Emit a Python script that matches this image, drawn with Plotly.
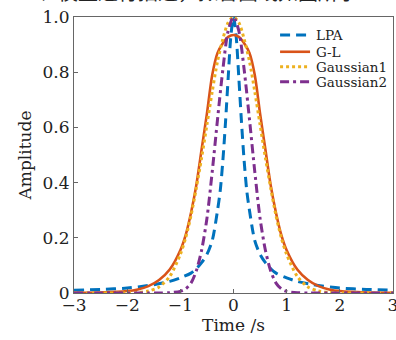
import plotly.graph_objects as go

# ---- data ----
t_lpa = [-3, -2.5, -2, -1.5, -1.2, -1, -0.8, -0.7, -0.6, -0.5, -0.4, -0.3, -0.25, -0.2, -0.15, -0.1, -0.05, 0,
         0.05, 0.1, 0.15, 0.2, 0.25, 0.3, 0.4, 0.5, 0.6, 0.7, 0.8, 1, 1.2, 1.5, 2, 2.5, 3]
lpa = [0.010, 0.013, 0.018, 0.030, 0.042, 0.055, 0.072, 0.088, 0.11, 0.14, 0.19, 0.30, 0.37, 0.48, 0.62, 0.78, 0.93, 1.0,
       0.93, 0.78, 0.62, 0.48, 0.37, 0.30, 0.19, 0.14, 0.11, 0.088, 0.072, 0.055, 0.042, 0.030, 0.018, 0.013, 0.010]

t_g = [-3, -2.5, -2, -1.8, -1.6, -1.4, -1.2, -1, -0.9, -0.8, -0.7, -0.6, -0.5, -0.4, -0.3, -0.2, -0.1, 0,
       0.1, 0.2, 0.3, 0.4, 0.5, 0.6, 0.7, 0.8, 0.9, 1, 1.2, 1.4, 1.6, 1.8, 2, 2.5, 3]
gl = [0.001, 0.002, 0.007, 0.013, 0.025, 0.047, 0.085, 0.155, 0.21, 0.29, 0.39, 0.52, 0.65, 0.79, 0.87, 0.905, 0.928, 0.935,
      0.928, 0.905, 0.87, 0.79, 0.65, 0.52, 0.39, 0.29, 0.21, 0.155, 0.085, 0.047, 0.025, 0.013, 0.007, 0.002, 0.001]
gauss1 = [0, 0, 0.0005, 0.002, 0.007, 0.022, 0.06, 0.14, 0.20, 0.28, 0.38, 0.49, 0.61, 0.73, 0.84, 0.92, 0.98, 1.0,
          0.98, 0.92, 0.84, 0.73, 0.61, 0.49, 0.38, 0.28, 0.20, 0.14, 0.06, 0.022, 0.007, 0.002, 0.0005, 0, 0]
gauss2 = [0, 0, 0, 0, 0, 0, 0.001, 0.006, 0.015, 0.036, 0.08, 0.155, 0.27, 0.44, 0.63, 0.81, 0.95, 1.0,
          0.95, 0.81, 0.63, 0.44, 0.27, 0.155, 0.08, 0.036, 0.015, 0.006, 0.001, 0, 0, 0, 0, 0, 0]

names = ["LPA", "G-L", "Gaussian1", "Gaussian2"]
x_ticks = [-3, -2, -1, 0, 1, 2, 3]
y_ticks = [0, 0.2, 0.4, 0.6, 0.8, 1.0]
y_ticktext = ["0", "0.2", "0.4", "0.6", "0.8", "1.0"]

# ---- styles ----
colors = ["#0072BD", "#D95319", "#EDB120", "#7E2F8E"]
dashes = ["10px,6px", "solid", "3px,3px", "9px,4px,3px,4px"]
widths = [3, 2.6, 3, 3]
FONT = "DejaVu Serif"

series = [(t_lpa, lpa), (t_g, gl), (t_g, gauss1), (t_g, gauss2)]

fig = go.Figure()
for (tx, vy), name, c, d, w in zip(series, names, colors, dashes, widths):
    fig.add_trace(go.Scatter(x=tx, y=vy, mode="lines", name=name,
                             line=dict(color=c, dash=d, width=w, shape="spline", smoothing=0.8),
                             showlegend=False))

# manual legend (compact spacing)
leg_y = [0.935, 0.874, 0.820, 0.765]
for name, c, d, w, yy in zip(names, colors, dashes, widths, leg_y):
    fig.add_shape(type="line", xref="paper", yref="paper", x0=0.646, x1=0.740, y0=yy, y1=yy,
                  line=dict(color=c, dash=d, width=w))
    fig.add_annotation(xref="paper", yref="paper", x=0.752, y=yy, text=name, showarrow=False,
                       xanchor="left", yanchor="middle", font=dict(family=FONT, size=13.5, color="#222"))

# cropped page text at the top
fig.add_annotation(xref="paper", yref="paper", x=-0.12, y=1.0, yshift=9, text="、模型进行描述，拟合曲线如图所示",
                   showarrow=False, xanchor="left", yanchor="bottom",
                   font=dict(family="Noto Sans CJK SC", size=20, color="#222"))

axis_common = dict(showline=True, mirror=True, linecolor="#666", linewidth=1,
                   ticks="inside", ticklen=4, tickcolor="#666", showgrid=False, zeroline=False,
                   ticklabeloverflow="allow", automargin=False,
                   tickfont=dict(family=FONT, size=17, color="#222"))

fig.update_xaxes(range=[-3, 3], tickvals=x_ticks, ticklabelstandoff=-3,
                 title=dict(text="Time /s", font=dict(family=FONT, size=17, color="#222"), standoff=4),
                 **axis_common)
fig.update_yaxes(range=[0, 1.0], tickvals=y_ticks, ticktext=y_ticktext,
                 title=dict(text="Amplitude", font=dict(family=FONT, size=17, color="#222"), standoff=6),
                 **axis_common)

fig.update_layout(width=396, height=340, margin=dict(l=74, r=3, t=17, b=47),
                  paper_bgcolor="white", plot_bgcolor="white", showlegend=False)

fig.write_html("out.html")
